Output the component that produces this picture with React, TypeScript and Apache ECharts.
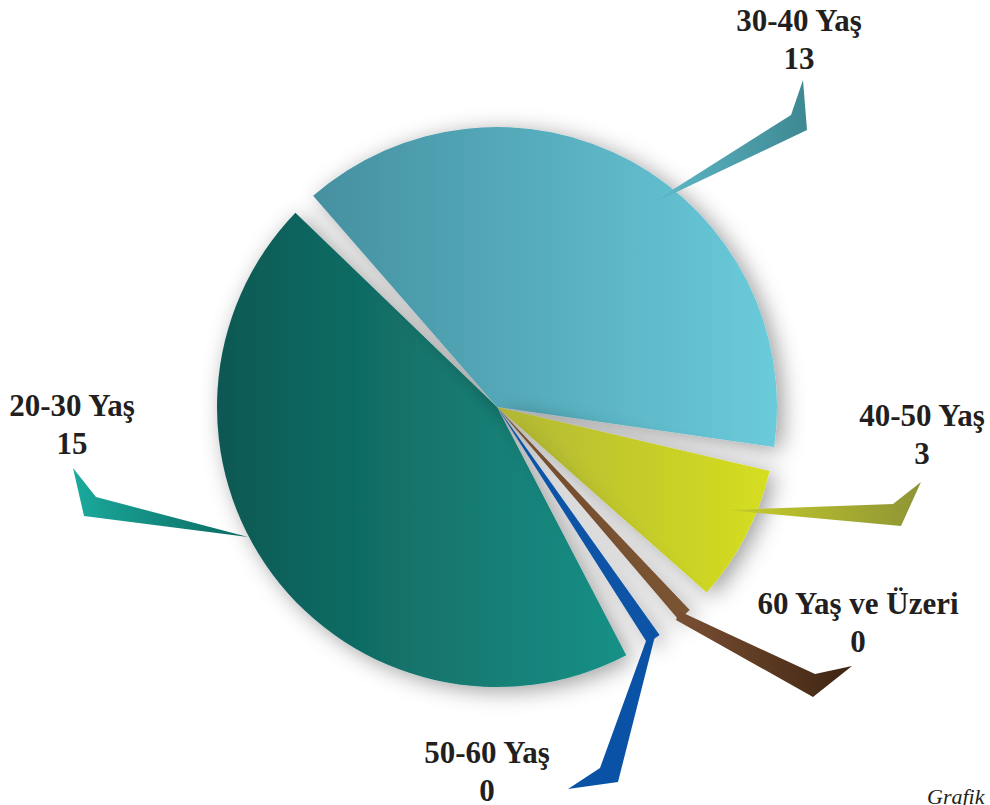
import React, { useEffect, useRef } from 'react';
import * as echarts from 'echarts';

// Slices in drawing order (clockwise)
const categories = ['20-30 Yaş', '30-40 Yaş', '40-50 Yaş', '60 Yaş ve Üzeri', '50-60 Yaş'];
const values = [15, 13, 3, 0, 0];

const sliceColors: string[][] = [
  ['#0d5853', '#189186'],
  ['#4590a0', '#6acbdb'],
  ['#b2b836', '#d6de1f'],
  ['#7a5233', '#7a5233'],
  ['#0a52a6', '#0a52a6'],
];

const labelPositions: number[][] = [
  [72, 424],
  [799, 39],
  [922, 434],
  [858, 622],
  [487, 771],
];

const arrowShapes: number[][][] = [
  [[248, 537], [96, 497], [73, 468], [84, 516]],
  [[647, 206], [791, 115], [803, 80], [807, 130]],
  [[727, 510], [893, 504], [921, 482], [901, 526]],
  [[679, 611], [815, 674], [852, 666], [813, 697], [676, 620]],
  [[650, 630], [600, 768], [568, 789], [618, 782], [656, 632]],
];

const arrowColors: string[][] = [
  ['#1aaa9c', '#0c6860'],
  ['#62bccb', '#3d8892'],
  ['#c8cf2a', '#8e9435'],
  ['#7a5033', '#3e2412'],
  ['#0a52a6', '#0a52a6'],
];

export default function App() {
  const ref = useRef<HTMLDivElement>(null);

  useEffect(() => {
    if (!ref.current) return;
    const chart = echarts.init(ref.current, undefined, { renderer: 'svg' });

    const data = categories.map((name, i) => ({
      name,
      value: values[i],
      itemStyle: {
        color: new echarts.graphic.LinearGradient(0, 0, 1, 0, [
          { offset: 0, color: sliceColors[i][0] },
          { offset: 1, color: sliceColors[i][1] },
        ]),
      },
    }));

    const arrowGraphics = arrowShapes.map((pts, i) => ({
      type: 'polygon',
      z: 100,
      silent: true,
      shape: { points: pts },
      style: {
        fill: new echarts.graphic.LinearGradient(0, 0, 1, 0, [
          { offset: 0, color: arrowColors[i][0] },
          { offset: 1, color: arrowColors[i][1] },
        ]),
      },
    }));

    chart.setOption({
      animation: false,
      backgroundColor: '#ffffff',
      graphic: [
        ...arrowGraphics,
        {
          type: 'text',
          z: 100,
          silent: true,
          style: {
            text: 'Grafik',
            x: 927,
            y: 796,
            verticalAlign: 'middle',
            font: 'italic 22px "Liberation Serif", "Times New Roman", serif',
            fill: '#231f20',
          },
        },
      ],
      series: [
        {
          type: 'pie',
          center: [497, 407],
          radius: 280,
          startAngle: 300,
          clockwise: true,
          padAngle: 5,
          minAngle: 3,
          avoidLabelOverlap: false,
          silent: true,
          emphasis: { disabled: true },
          itemStyle: {
            shadowBlur: 22,
            shadowColor: 'rgba(0,0,0,0.38)',
            shadowOffsetX: 6,
            shadowOffsetY: 4,
          },
          label: {
            show: true,
            position: 'outside',
            formatter: '{b}\n{c}',
            overflow: 'none',
            fontSize: 31,
            fontWeight: 'bold',
            fontFamily: '"Liberation Serif", "Times New Roman", serif',
            color: '#231f20',
            lineHeight: 38,
            align: 'center',
          },
          labelLine: { show: false },
          labelLayout: (params: any) => {
            const p = labelPositions[params.dataIndex];
            return { x: p[0], y: p[1], align: 'center', verticalAlign: 'middle' };
          },
          data,
        },
      ],
    });

    return () => chart.dispose();
  }, []);

  return (
    <div
      ref={ref}
      style={{ position: 'fixed', left: 0, top: 0, width: 990, height: 805 }}
    />
  );
}
